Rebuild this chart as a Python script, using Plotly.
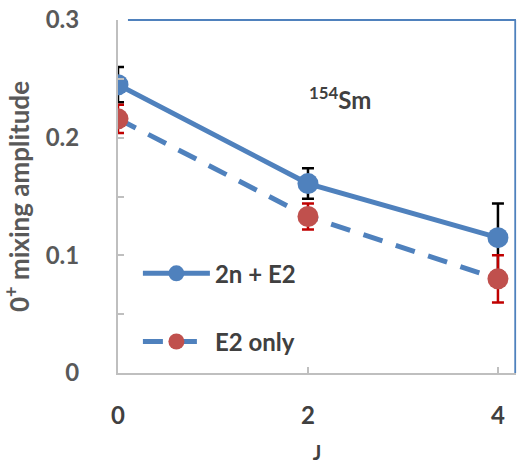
import plotly.graph_objects as go

J = [0, 2, 4]
amp_2n_e2 = [0.245, 0.161, 0.115]
err_2n_e2 = [0.015, 0.013, 0.029]
amp_e2 = [0.216, 0.133, 0.080]
err_e2 = [0.012, 0.011, 0.020]

series_names = ["2n + E2", "E2 only"]
x_ticks = [0, 2, 4]
y_ticks = [0, 0.1, 0.2, 0.3]
y_ticklabels = ["0", "0.1", "0.2", "0.3"]

BLUE = "#4f81bd"
RED = "#c0504d"
FONT = "Lato"
GRAY_TXT = "#595959"
DARK_TXT = "#404040"

fig = go.Figure()
fig.add_trace(go.Scatter(
    x=J, y=amp_2n_e2, name=series_names[0], mode="lines+markers",
    line=dict(color=BLUE, width=5),
    marker=dict(color=BLUE, size=21),
    error_y=dict(type="data", array=err_2n_e2, color="black", thickness=2.5, width=6),
    legendgroup="a",
))
fig.add_trace(go.Scatter(
    x=J, y=amp_e2, name=series_names[1], mode="lines+markers",
    line=dict(color=BLUE, width=5, dash="20px,14px"),
    marker=dict(color=RED, size=21),
    error_y=dict(type="data", array=err_e2, color="#c00000", thickness=2.5, width=6),
    legendgroup="b",
))

fig.add_annotation(
    text="<sup>154</sup>Sm", xref="paper", yref="paper",
    x=0.558, y=0.83, showarrow=False,
    font=dict(family=FONT, size=24, color=DARK_TXT, weight="bold"),
)

# blue frame on top and right
fig.add_shape(type="line", xref="paper", yref="paper", x0=0.025, x1=1, y0=1, y1=1,
              line=dict(color=BLUE, width=1.8))
fig.add_shape(type="line", xref="paper", yref="paper", x0=0.998, x1=0.998, y0=0, y1=1,
              line=dict(color=BLUE, width=1.8))

fig.update_layout(
    width=522, height=467,
    margin=dict(l=118, r=6, t=20, b=94),
    paper_bgcolor="white", plot_bgcolor="white",
    font=dict(family=FONT, color=GRAY_TXT),
    legend=dict(
        x=0.05, y=0.345, xanchor="left", yanchor="top",
        bgcolor="rgba(0,0,0,0)",
        font=dict(family=FONT, size=24, color=DARK_TXT, weight="bold"),
        tracegroupgap=34, traceorder="grouped", itemwidth=67,
    ),
    xaxis=dict(
        range=[0, 4.19], tickvals=x_ticks, ticktext=[str(v) for v in x_ticks],
        ticks="inside", ticklen=6, tickcolor="#bfbfbf", tickwidth=1.5,
        showline=True, linecolor="#bfbfbf", linewidth=2,
        showgrid=False, zeroline=False, automargin=False,
        tickfont=dict(size=24, color=DARK_TXT, weight="bold"),
        ticklabelstandoff=20,
        title=dict(text="J", font=dict(size=20, color=DARK_TXT, weight="bold"), standoff=18),
    ),
    yaxis=dict(
        range=[0, 0.3], tickvals=y_ticks, ticktext=y_ticklabels,
        ticks="inside", ticklen=6, tickcolor="#bfbfbf", tickwidth=1.5,
        minor=dict(dtick=0.05, ticks="inside", ticklen=6, tickcolor="#bfbfbf", tickwidth=1.5),
        showline=True, linecolor="#bfbfbf", linewidth=2,
        showgrid=False, zeroline=False, automargin=False,
        tickfont=dict(size=24, color=GRAY_TXT, weight="bold"),
        ticklabelstandoff=32,
        title=dict(text="0<sup>+</sup> mixing amplitude", font=dict(size=26, color=GRAY_TXT, weight="bold"), standoff=11),
    ),
)

fig.write_html("out.html", config={"displayModeBar": False},
               post_script="document.body.style.margin='0';")
